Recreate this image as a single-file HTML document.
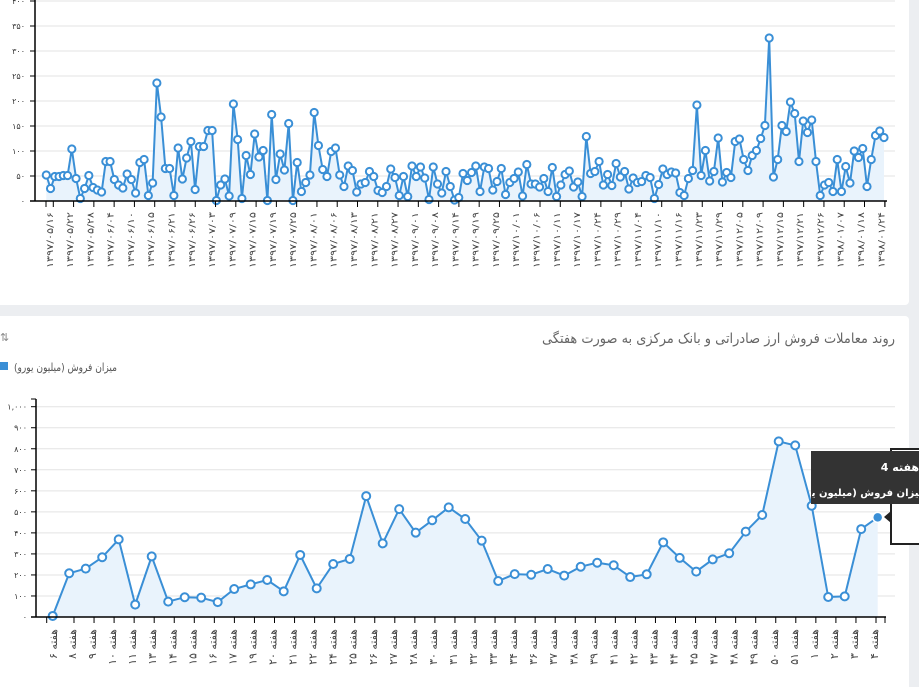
<!DOCTYPE html>
<html><head><meta charset="utf-8"><style>
html,body{margin:0;padding:0;background:#eceef1;}
svg{display:block;font-family:"DejaVu Sans","Liberation Sans",sans-serif;}
</style></head><body>
<svg id="s" width="919" height="687" xmlns="http://www.w3.org/2000/svg">
<defs><clipPath id="tc"><rect x="812" y="451" width="120" height="53"/></clipPath></defs>
<rect x="0" y="0" width="919" height="687" fill="#eceef1"/>
<rect x="-5" y="-5" width="914" height="310" rx="4" fill="#fff"/>
<rect x="-5" y="316" width="914" height="380" rx="4" fill="#fff"/>
<g id="top"></g>
<g id="bot"></g>
<text x="895" y="343" font-size="14" fill="#666" text-anchor="end" textLength="353" lengthAdjust="spacingAndGlyphs">روند معاملات فروش ارز صادراتی و بانک مرکزی به صورت هفتگی</text>
<text x="0" y="341" font-size="11" fill="#888">⇅</text>
<rect x="0" y="362" width="8" height="8" fill="#3a8fd6"/>
<text x="117" y="371" font-size="11" fill="#555" text-anchor="end" textLength="103" lengthAdjust="spacingAndGlyphs">میزان فروش (میلیون یورو)</text>
<g id="tip"></g>
</svg>
<script>
var NS="http://www.w3.org/2000/svg";
function el(p,t,a,txt){var e=document.createElementNS(NS,t);for(var k in a)e.setAttribute(k,a[k]);if(txt!=null)e.textContent=txt;p.appendChild(e);return e;}
function fa(s){return String(s).replace(/[0-9]/g,function(d){return "۰۱۲۳۴۵۶۷۸۹"[d];});}
var T=document.getElementById("top");
var tv=[52,25,49,49,51,51,104,45,5,25,51,27,22,18,79,79,43,32,26,54,43,16,77,83,11,36,236,168,65,65,11,106,44,86,119,23,109,109,141,141,1,32,44,10,194,123,5,91,53,134,88,101,1,173,43,94,62,155,1,77,19,37,52,177,111,63,49,99,106,52,29,70,61,18,34,37,59,49,21,17,29,64,47,11,49,9,70,49,68,46,3,68,34,16,59,29,2,7,
55,41,57,70,19,68,65,22,39,65,13,37,45,58,10,73,34,34,28,45,19,67,9,32,53,60,28,38,9,129,55,59,79,32,53,31,75,48,59,24,46,37,39,51,47,5,33,64,53,58,56,17,11,45,61,192,51,101,40,59,126,38,57,47,119,124,83,61,91,101,125,151,326,48,83,151,139,198,175,79,160,137,162,79,11,32,37,19,83,19,69,36,100,87,105,29,83,131,140,127];
function ty(v){return 201-v*0.5;}
for(var g=0;g<=400;g+=50){var y=ty(g);if(g>0)el(T,"line",{x1:35,y1:y,x2:895,y2:y,stroke:"#e3e3e3","stroke-width":1});
el(T,"line",{x1:30,y1:y,x2:35,y2:y,stroke:"#000"});el(T,"text",{x:25,y:y+3,"font-size":8,fill:"#333","text-anchor":"end"},fa(g));}
var n=tv.length,x0=46.3,st=(884-46.3)/(n-1),pts=[];
for(var i=0;i<n;i++)pts.push([x0+i*st,ty(tv[i])]);
var d="M"+pts.map(function(p){return p[0].toFixed(1)+","+p[1].toFixed(1)}).join("L");
el(T,"path",{d:d+"L"+pts[n-1][0]+",201L"+x0+",201Z",fill:"#e9f3fc"});
el(T,"path",{d:d,fill:"none",stroke:"#3a8fd6","stroke-width":2});
pts.forEach(function(p){el(T,"circle",{cx:p[0],cy:p[1],r:3.6,fill:"#fff",stroke:"#3a8fd6","stroke-width":2});});
el(T,"line",{x1:35,y1:0,x2:35,y2:201,stroke:"#000","stroke-width":1.5});
el(T,"line",{x1:30,y1:201,x2:887,y2:201,stroke:"#000","stroke-width":1.5});
var tl=["1397/05/16","1397/05/22","1397/05/28","1397/06/04","1397/06/10","1397/06/15","1397/06/21","1397/06/26","1397/07/03","1397/07/09","1397/07/15","1397/07/19","1397/07/25","1397/08/01","1397/08/06","1397/08/13","1397/08/21","1397/08/27","1397/09/01","1397/09/08","1397/09/14","1397/09/19","1397/09/25","1397/10/01","1397/10/06","1397/10/11","1397/10/17","1397/10/24","1397/10/29","1397/11/04","1397/11/10","1397/11/16","1397/11/23","1397/11/29","1397/12/05","1397/12/09","1397/12/15","1397/12/21","1397/12/26","1398/01/07","1398/01/18","1398/01/24"];
el(T,"line",{x1:46,y1:201,x2:46,y2:207,stroke:"#000"});
el(T,"line",{x1:885,y1:201,x2:885,y2:207,stroke:"#000"});
for(var k=0;k<42;k++){var x=53.3+k*20.28;el(T,"line",{x1:x,y1:201,x2:x,y2:207,stroke:"#000"});
el(T,"text",{x:0,y:0,"font-size":9,fill:"#444","text-anchor":"end",transform:"translate("+(x-0.5)+",212) rotate(-90)",textLength:56,lengthAdjust:"spacingAndGlyphs"},fa(tl[k]));}
var B=document.getElementById("bot");
var bv=[5,208,230,284,369,59,288,73,94,92,71,133,155,176,122,295,136,252,276,575,350,513,401,460,521,466,363,171,204,201,228,197,239,258,246,190,203,355,281,216,274,303,406,485,835,816,529,95,98,418,474];
function by(v){return 617-v*0.2103;}
for(var g=0;g<=1000;g+=100){var y=by(g);if(g>0)el(B,"line",{x1:36,y1:y,x2:895,y2:y,stroke:"#e3e3e3"});
el(B,"line",{x1:31,y1:y,x2:36,y2:y,stroke:"#000"});el(B,"text",{x:27,y:y+3,"font-size":8,fill:"#333","text-anchor":"end"},g==1000?"۱,۰۰۰":fa(g));}
var m=bv.length,bx0=52.7,bs=(877.7-52.7)/(m-1),bp=[];
for(var i=0;i<m;i++)bp.push([bx0+i*bs,by(bv[i])]);
var d2="M"+bp.map(function(p){return p[0].toFixed(1)+","+p[1].toFixed(1)}).join("L");
el(B,"path",{d:d2+"L"+bp[m-1][0]+",617L"+bx0+",617Z",fill:"#e9f3fc"});
el(B,"path",{d:d2,fill:"none",stroke:"#3a8fd6","stroke-width":2});
bp.forEach(function(p,i){if(i==m-1)el(B,"circle",{cx:p[0],cy:p[1],r:5,fill:"#3a8fd6",stroke:"#fff","stroke-width":1.5});else el(B,"circle",{cx:p[0],cy:p[1],r:4,fill:"#fff",stroke:"#3a8fd6","stroke-width":2});});
el(B,"line",{x1:36,y1:399,x2:36,y2:617,stroke:"#000","stroke-width":1.5});
el(B,"line",{x1:31,y1:399,x2:36,y2:399,stroke:"#000"});
el(B,"line",{x1:31,y1:617,x2:886,y2:617,stroke:"#000","stroke-width":1.5});
var wl=[6,8,9,10,11,13,14,15,16,17,19,20,21,22,24,25,26,27,28,30,31,32,33,34,36,37,38,39,41,42,43,44,45,47,48,49,50,51,1,2,3,4];
el(B,"line",{x1:46.7,y1:617,x2:46.7,y2:623,stroke:"#000"});
el(B,"line",{x1:885,y1:617,x2:885,y2:623,stroke:"#000"});
for(var k=0;k<42;k++){var tx=(k==0)?null:74+(k-1)*20.05;if(tx)el(B,"line",{x1:tx,y1:617,x2:tx,y2:623,stroke:"#000"});
var lx=(k==0)?53:tx-2;
el(B,"text",{x:0,y:0,"font-size":11,fill:"#444","text-anchor":"end",transform:"translate("+(lx+4)+",629) rotate(-90)"},"هفته "+fa(wl[k]));}
var P=document.getElementById("tip");
el(P,"rect",{x:891,y:449,width:40,height:95,fill:"#fff",stroke:"#222","stroke-width":2});
el(P,"path",{d:"M884,517 L891,511 L891,523 Z",fill:"#222"});
el(P,"rect",{x:811,y:451,width:120,height:53,fill:"#333"});
var G=el(P,"g",{"clip-path":"url(#tc)"});
el(G,"text",{x:919,y:471,"font-size":11,fill:"#fff","text-anchor":"end","font-weight":"bold"},"هفته 4");
el(G,"text",{x:925,y:496,"font-size":10,fill:"#fff",direction:"rtl","unicode-bidi":"embed","text-anchor":"start","font-weight":"bold"},"میزان فروش (میلیون یورو): ۴۷۵");
</script>
</body></html>
